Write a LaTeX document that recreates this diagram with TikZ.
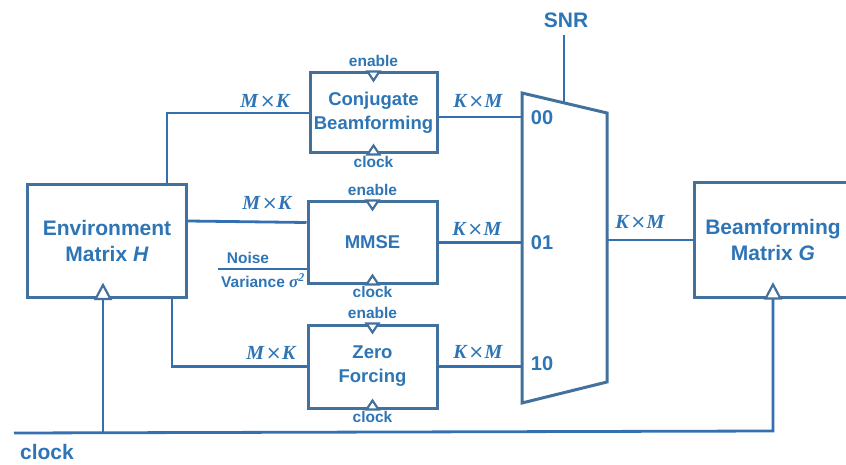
\documentclass[tikz,border=0pt]{standalone}
\usepackage{fontspec}
\setmainfont{Liberation Sans}
\newfontfamily\tnr{Liberation Serif}
\newfontfamily\dvs{DejaVu Sans}
\newcommand{\mytimes}{\kern1.5pt{\dvs\mdseries\upshape\fontsize{19}{22}\selectfont ×}\kern0.5pt}
\usetikzlibrary{calc}
\definecolor{boxcol}{RGB}{65,113,156}
\definecolor{txtcol}{RGB}{46,117,182}
\definecolor{linecol}{RGB}{52,112,176}
\tikzset{
  blk/.style={draw=boxcol,line width=3pt,fill=white,rectangle,inner sep=0pt,align=center,text=txtcol,font=\fontsize{18.5}{24}\selectfont\bfseries},
  bigblk/.style={blk,font=\fontsize{21}{26}\selectfont\bfseries},
  wire/.style={draw=linecol,line width=2.8pt},
  tri/.style={draw=boxcol,line width=2.2pt,fill=white,line join=miter},
  small/.style={text=txtcol,font=\fontsize{15.5}{18}\selectfont\bfseries,inner sep=0pt},
  dim/.style={text=txtcol,font=\fontsize{20}{22}\selectfont\tnr\bfseries\itshape,inner sep=0pt},
  big/.style={text=txtcol,font=\fontsize{21}{24}\selectfont\bfseries,inner sep=0pt},
  sel/.style={text=txtcol,font=\fontsize{20}{22}\selectfont\bfseries,inner sep=0pt}
}
\begin{document}
\begin{tikzpicture}[x=1pt,y=-1pt]
\useasboundingbox (0,0) rectangle (846,465);
\clip (0,0) rectangle (846,465);
% blocks
\node[bigblk,minimum width=159pt,minimum height=113pt] (env) at (107,241) {Environment\\Matrix \textit{H}};
\node[blk,minimum width=127pt,minimum height=80pt] (conj) at (373.5,113) {Conjugate\\Beamforming};
\node[blk,minimum width=129pt,minimum height=81pt] (mmse) at (372.5,242.5) {MMSE};
\node[blk,minimum width=129pt,minimum height=83pt] (zf) at (372.5,366.5) {Zero\\Forcing};
\node[bigblk,minimum width=158pt,minimum height=114pt] (bfg) at (773,240) {Beamforming\\Matrix \textit{G}};
% mux
\coordinate (mtl) at (522,93);
\coordinate (mtr) at (607,113);
\coordinate (mbr) at (607,382);
\coordinate (mbl) at (522,403);
\draw[draw=boxcol,line width=3pt,line join=miter] (mtl) -- (mtr) -- (mbr) -- (mbl) -- cycle;
\coordinate (snrtop) at (564,35);
\coordinate (snrbot) at (564,102.9);
\node[big] (snr) at (566,20) {SNR};
\draw[wire] (snrtop) -- (snrbot);
% mux input coordinates
\coordinate (m00) at (522,117);
\coordinate (m01) at (522,242.5);
\coordinate (m10) at (522,366.5);
\coordinate (mout) at (607,240);
\node[sel] (l00) at (542,118) {00};
\node[sel] (l01) at (542,243) {01};
\node[sel] (l10) at (542,364) {10};
% env connectors
\draw[wire] ([xshift=60pt]env.north) |- (conj.west);
\draw[wire] ([yshift=20pt]env.east) -- ([yshift=20pt]mmse.west);
\draw[wire] ([xshift=65pt]env.south) |- (zf.west);
% noise
\coordinate (noise) at (218,269);
\draw[wire] (noise) -- (noise -| mmse.west);
\node[small] (nlab) at (248,258) {Noise};
\node[small] (vlab) at (263,281) {Variance \tnr\itshape\fontsize{17}{18}\selectfont σ\textsuperscript{2}};
% outputs to mux
\draw[wire] (conj.east |- m00) -- (m00);
\draw[wire] (mmse.east) -- (m01);
\draw[wire] (zf.east) -- (m10);
\draw[wire] (mout) -- (bfg.west);
% dimension labels
\node[dim] (d1) at (265,101) {M\mytimes K};
\node[dim] (d2) at (267,203) {M\mytimes K};
\node[dim] (d3) at (271,353) {M\mytimes K};
\node[dim] (d4) at (478,101) {K\mytimes M};
\node[dim] (d5) at (477,229) {K\mytimes M};
\node[dim] (d6) at (478,352) {K\mytimes M};
\node[dim] (d7) at (640,222) {K\mytimes M};
% enable / clock triangles on processing blocks
\foreach \b in {conj,mmse,zf}{
  \draw[tri] ([xshift=-6pt]\b.north) -- ([xshift=6pt]\b.north) -- ([yshift=-9pt]\b.north) -- cycle;
  \draw[tri] ([xshift=-6pt]\b.south) -- ([xshift=6pt]\b.south) -- ([yshift=9pt]\b.south) -- cycle;
  \node[small] (\b en) at ([yshift=11pt]\b.north) {enable};
  \node[small] (\b ck) at ([yshift=-7pt]\b.south) {clock};
}
% clock bus
\coordinate (clk) at (14,433);
\coordinate (busr) at (773,431);
\coordinate (envck) at (103,432.7);
\draw[wire] (clk) -- (busr) -- (bfg.south);
\draw[wire] (envck) -- ([xshift=-4pt]env.south);
\draw[tri] ([xshift=-11.5pt]env.south) -- ([xshift=3.5pt]env.south) -- ([xshift=-4pt,yshift=14pt]env.south) -- cycle;
\draw[tri] ([xshift=-7.5pt]bfg.south) -- ([xshift=7.5pt]bfg.south) -- ([yshift=14pt]bfg.south) -- cycle;
\node[big] (clklab) at (47,452) {clock};
\end{tikzpicture}
\end{document}
